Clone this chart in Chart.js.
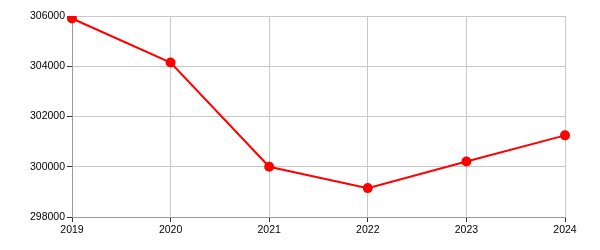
<!DOCTYPE html>
<html>
<head>
<meta charset="utf-8">
<script src="https://cdn.jsdelivr.net/npm/chart.js@4"></script>
<style>
  html, body { margin: 0; padding: 0; background: #fff; }
  #wrap { width: 600px; height: 250px; position: relative; }
</style>
</head>
<body>
<div id="wrap"><canvas id="grafico"></canvas></div>
<script>
const anos = ["2019", "2020", "2021", "2022", "2023", "2024"];
const valores = [305900, 304150, 300000, 299150, 300210, 301250];
const yMin = 298000;
const yMax = 306000;
const yPasso = 2000;

new Chart(document.getElementById("grafico"), {
  type: "line",
  data: {
    labels: anos,
    datasets: [{
      data: valores,
      borderColor: "#ff0000",
      backgroundColor: "#ff0000",
      borderWidth: 2,
      pointRadius: 4,
      pointHoverRadius: 4,
      tension: 0
    }]
  },
  options: {
    responsive: true,
    maintainAspectRatio: false,
    animation: false,
    layout: { padding: { top: 16, right: 35, bottom: 0, left: 0 } },
    plugins: { legend: { display: false }, tooltip: { enabled: false } },
    scales: {
      x: {
        offset: false,
        grid: { color: "#c8c8c8", tickColor: "#333", tickLength: 5 },
        border: { color: "#999" },
        ticks: { color: "#000", font: { family: "Arial, 'Liberation Sans'", size: 10.5 }, padding: 2, maxRotation: 0 },
        afterFit: s => { s.height = 33; }
      },
      y: {
        min: yMin,
        max: yMax,
        grid: { color: "#c8c8c8", tickColor: "#333", tickLength: 5 },
        border: { color: "#999" },
        ticks: {
          stepSize: yPasso,
          color: "#000",
          font: { family: "Arial, 'Liberation Sans'", size: 10.5 },
          padding: 2,
          callback: v => String(v)
        },
        afterFit: s => { s.width = 72; }
      }
    }
  }
});
</script>
</body>
</html>
